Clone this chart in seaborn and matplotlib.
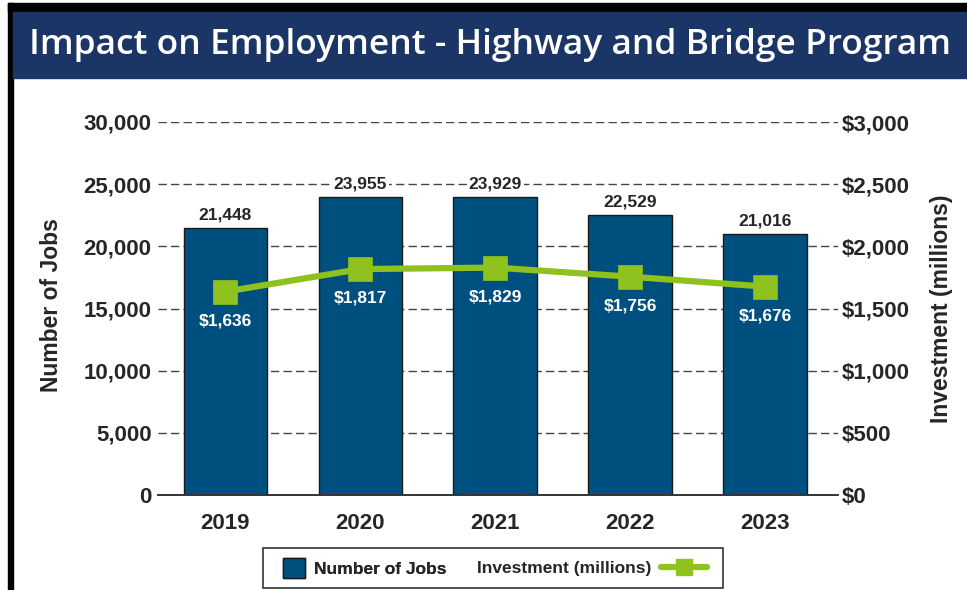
import pandas as pd
import seaborn as sns
import matplotlib.pyplot as plt
from matplotlib.patches import Rectangle, Patch
from matplotlib.lines import Line2D

# data
years = ['2019', '2020', '2021', '2022', '2023']
jobs = [21448, 23955, 23929, 22529, 21016]
investment = [1636, 1817, 1829, 1756, 1676]

jobs_ticks = [0, 5000, 10000, 15000, 20000, 25000, 30000]
invest_ticks = [0, 500, 1000, 1500, 2000, 2500, 3000]

title = 'Impact on Employment - Highway and Bridge Program'

bar_color = '#00507f'
line_color = '#8fc21f'
banner_color = '#1b3666'

df = pd.DataFrame({'Year': years, 'Jobs': jobs, 'Investment': investment})

sns.set_style('white')
plt.rcParams['font.family'] = ['Liberation Sans', 'DejaVu Sans']

fig = plt.figure(figsize=(9.67, 5.90), dpi=100)

# frame and title banner
fig.add_artist(Rectangle((8 / 967, 0), 5 / 967, 1 - 3 / 590, transform=fig.transFigure,
                         color='black', zorder=0))
fig.add_artist(Rectangle((8 / 967, 1 - 12 / 590), 1, 9 / 590, transform=fig.transFigure,
                         color='black', zorder=0))
fig.add_artist(Rectangle((13 / 967, 1 - 78 / 590), 1, 66 / 590, transform=fig.transFigure,
                         color=banner_color, zorder=1))
fig.text(490 / 967, 1 - 45 / 590, title, ha='center', va='center', color='white',
         fontsize=25.5, family=['Open Sans', 'DejaVu Sans'], fontweight='semibold', zorder=2)

ax = fig.add_axes([158 / 967, 95 / 590, 680 / 967, 373 / 590])
sns.barplot(data=df, x='Year', y='Jobs', color=bar_color, saturation=1, width=0.62,
            edgecolor='#1a1a1a', linewidth=1, ax=ax)
bar_texts = ax.bar_label(ax.containers[0], labels=[f'{v:,}' for v in jobs], padding=4,
                         fontsize=12.5, fontweight='bold')
for t in bar_texts:
    t.set_bbox(dict(facecolor='white', edgecolor='none', pad=1.5))

ax2 = ax.twinx()
sns.pointplot(data=df, x='Year', y='Investment', color=line_color, markers='s',
              markersize=14, linewidth=4.5, errorbar=None, ax=ax2)
for i, v in enumerate(investment):
    ax2.annotate(f'${v:,}', (i, v), xytext=(0, -21), textcoords='offset points',
                 ha='center', va='center', color='white', fontsize=12.5, fontweight='bold')

ax.set_xlim(-0.5, 4.54)
ax.set_ylim(0, 30000)
ax2.set_ylim(0, 3000)

ax.set_yticks(jobs_ticks)
ax.set_yticklabels([f'{t:,}' for t in jobs_ticks])
ax2.set_yticks(invest_ticks)
ax2.set_yticklabels([f'${t:,}' for t in invest_ticks])

ax.set_axisbelow(True)
ax.yaxis.grid(True, linestyle=(0, (6, 3)), color='#444444', linewidth=1)
ax.xaxis.grid(False)
ax2.grid(False)

for a in (ax, ax2):
    for s in ('left', 'right', 'top'):
        a.spines[s].set_visible(False)
    a.spines['bottom'].set_color('#333333')
    a.spines['bottom'].set_linewidth(1.2)
    a.tick_params(length=0)

ax.tick_params(axis='y', labelsize=16, pad=4.5)
ax.tick_params(axis='x', labelsize=16, pad=13)
ax2.tick_params(axis='y', labelsize=16, pad=3)
for lab in ax.get_xticklabels() + ax.get_yticklabels() + ax2.get_yticklabels():
    lab.set_fontweight('bold')

ax.set_xlabel('')
ax.set_ylabel('Number of Jobs', fontsize=16.5, fontweight='bold')
ax.yaxis.set_label_coords(-0.14, 0.51)
ax2.set_ylabel('Investment (millions)', fontsize=16.5, fontweight='bold')
ax2.yaxis.set_label_coords(1.135, 0.50)

# legend: box with patch-first entry and line-last entry
fig.add_artist(Rectangle((263 / 967, 2 / 590), 460 / 967, 40 / 590, transform=fig.transFigure,
                         fill=False, edgecolor='#333333', linewidth=1.2))
leg1 = fig.legend(handles=[Patch(facecolor=bar_color, edgecolor='#1a1a1a')],
                  labels=['Number of Jobs'], loc='center left',
                  bbox_to_anchor=(274 / 967, 22 / 590), frameon=False,
                  handlelength=1.3, handleheight=1.4, handletextpad=0.5, borderpad=0,
                  prop={'size': 12.5, 'weight': 'bold'})
leg2 = fig.legend(handles=[Line2D([], [], color=line_color, lw=4.5, marker='s', markersize=12)],
                  labels=['Investment (millions)'], loc='center right', markerfirst=False,
                  bbox_to_anchor=(716 / 967, 22 / 590), frameon=False,
                  handlelength=2.65, handletextpad=0.55, borderpad=0,
                  prop={'size': 12.5, 'weight': 'bold'})
fig.add_artist(leg1)

fig.savefig('out.png', dpi=100)
